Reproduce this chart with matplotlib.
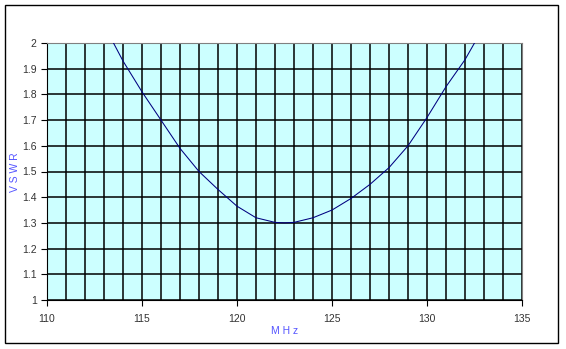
import matplotlib.pyplot as plt
from matplotlib.patches import Rectangle

# data
freq_mhz = [113, 113.5, 114, 115, 116, 117, 118, 119, 120, 121, 122, 122.5,
            123, 124, 125, 126, 127, 128, 129, 130, 131, 132, 132.5, 133]
vswr = [2.07, 2.0, 1.93, 1.81, 1.70, 1.59, 1.50, 1.43, 1.365, 1.32, 1.302, 1.30,
        1.302, 1.32, 1.35, 1.395, 1.45, 1.515, 1.60, 1.71, 1.83, 1.935, 2.0, 2.07]
x_ticks = [110, 115, 120, 125, 130, 135]
y_ticks = [1, 1.1, 1.2, 1.3, 1.4, 1.5, 1.6, 1.7, 1.8, 1.9, 2]
y_labels = ['1', '1.1', '1.2', '1.3', '1.4', '1.5', '1.6', '1.7', '1.8', '1.9', '2']

plt.rcParams['font.family'] = ['Liberation Sans', 'DejaVu Sans']

fig = plt.figure(figsize=(5.66, 3.49), dpi=100)
fig.patches.append(Rectangle((5/566, 1-343/349), 553/566, 338/349,
                             transform=fig.transFigure, fill=False,
                             edgecolor='black', linewidth=1.0))

ax = fig.add_axes([47/566, 1-300/349, 475/566, 257/349])
ax.set_facecolor('#CCFFFF')
ax.plot(freq_mhz, vswr, color='#000080', linewidth=0.75, zorder=3)

ax.set_xlim(110, 135)
ax.set_ylim(1, 2)
ax.set_xticks(x_ticks)
ax.set_xticks(range(110, 136), minor=True)
ax.set_yticks(y_ticks)
ax.set_yticklabels(y_labels)
ax.grid(True, which='both', color='black', linewidth=1.1)
ax.tick_params(axis='x', which='minor', length=0)
ax.tick_params(axis='both', which='major', length=4, width=0.8,
               labelsize=7.5, labelcolor='#333333', direction='out')
ax.tick_params(axis='x', pad=6)

for s in ['top', 'right']:
    ax.spines[s].set_color('#808080')
for s in ['left', 'bottom']:
    ax.spines[s].set_color('black')

fig.text(15/566, 1-172/349, 'V S W R', rotation=90, color='#5555FF',
         fontsize=7.5, ha='center', va='center')
fig.text(285/566, 1-331/349, 'M H z', color='#5555FF',
         fontsize=7.5, ha='center', va='center')

fig.savefig('out.png', dpi=100)
